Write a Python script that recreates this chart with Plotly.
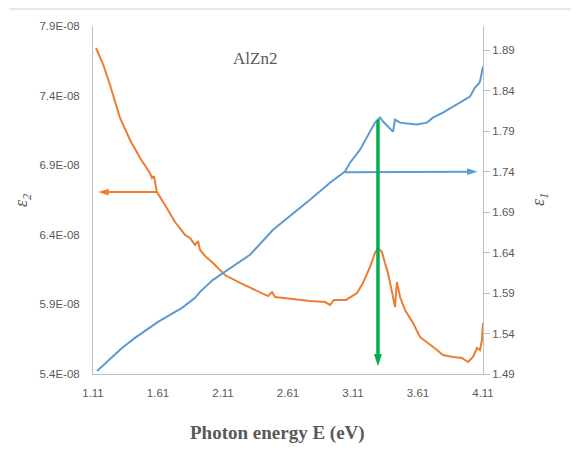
import plotly.graph_objects as go

# ---- data ----
e1_energy = [1.141, 1.202, 1.279, 1.333, 1.433, 1.548, 1.610, 1.702, 1.795, 1.895, 1.933,
             2.033, 2.125, 2.318, 2.495, 2.610, 2.779, 2.933, 3.048, 3.087, 3.164, 3.241,
             3.279, 3.302, 3.318, 3.341, 3.379, 3.418, 3.433, 3.472, 3.525, 3.602, 3.679,
             3.725, 3.802, 3.879, 3.956, 4.010, 4.048, 4.072, 4.087, 4.110]
e1_values = [1.4937, 1.5024, 1.5135, 1.5222, 1.5346, 1.5482, 1.5544, 1.5630, 1.5717, 1.5841, 1.5915,
             1.6063, 1.6162, 1.6373, 1.6682, 1.6831, 1.7053, 1.7264, 1.7400, 1.7511, 1.7672, 1.7895,
             1.8006, 1.8043, 1.8068, 1.8019, 1.7957, 1.7895, 1.8043, 1.8006, 1.7994, 1.7982, 1.8006,
             1.8068, 1.8130, 1.8204, 1.8279, 1.8328, 1.8440, 1.8477, 1.8514, 1.8700]

e2_energy = [1.133, 1.156, 1.187, 1.241, 1.318, 1.395, 1.472, 1.548, 1.564, 1.579, 1.602,
             1.664, 1.741, 1.818, 1.856, 1.895, 1.918, 1.933, 1.972, 2.033, 2.125, 2.241,
             2.356, 2.456, 2.487, 2.510, 2.648, 2.779, 2.895, 2.933, 2.964, 3.056, 3.141,
             3.187, 3.241, 3.279, 3.302, 3.333, 3.356, 3.379, 3.418, 3.433, 3.448, 3.472,
             3.510, 3.572, 3.625, 3.687, 3.756, 3.802, 3.879, 3.948, 3.995, 4.033, 4.064,
             4.087, 4.102, 4.110]
e2_values = [7.742, 7.692, 7.627, 7.476, 7.239, 7.081, 6.952, 6.844, 6.808, 6.822, 6.707,
             6.614, 6.492, 6.399, 6.377, 6.327, 6.355, 6.291, 6.248, 6.197, 6.111, 6.054,
             6.003, 5.960, 5.989, 5.953, 5.939, 5.924, 5.917, 5.896, 5.932, 5.932, 5.982,
             6.054, 6.169, 6.269, 6.305, 6.276, 6.197, 6.126, 5.953, 5.881, 6.061, 5.953,
             5.860, 5.766, 5.666, 5.623, 5.572, 5.536, 5.522, 5.515, 5.486, 5.522, 5.587,
             5.572, 5.644, 5.766]
e2_values = [v * 1e-8 for v in e2_values]

x_ticks = [1.11, 1.61, 2.11, 2.61, 3.11, 3.61, 4.11]
x_tick_labels = ["1.11", "1.61", "2.11", "2.61", "3.11", "3.61", "4.11"]
y1_ticks = [5.4e-8, 5.9e-8, 6.4e-8, 6.9e-8, 7.4e-8, 7.9e-8]
y1_tick_labels = ["5.4E-08", "5.9E-08", "6.4E-08", "6.9E-08", "7.4E-08", "7.9E-08"]
y2_ticks = [1.49, 1.54, 1.59, 1.64, 1.69, 1.74, 1.79, 1.84, 1.89]
y2_tick_labels = ["1.49", "1.54", "1.59", "1.64", "1.69", "1.74", "1.79", "1.84", "1.89"]

# arrows (start / end points in data units)
e2_arrow_x = [1.602, 1.150]
e2_arrow_y = [6.707e-8, 6.707e-8]
e1_arrow_x = [3.048, 4.068]
e1_arrow_y = [1.7392, 1.7400]
peak_arrow_x = [3.302, 3.302]
peak_arrow_y = [1.8043, 1.4995]

ORANGE = "#ED7D31"
BLUE = "#5B9BD5"
GREEN = "#00B050"
GRAY = "#595959"
AXIS = "#BFBFBF"

fig = go.Figure()
fig.add_trace(go.Scatter(x=e2_energy, y=e2_values, mode="lines",
                         line=dict(color=ORANGE, width=2), yaxis="y", showlegend=False))
fig.add_trace(go.Scatter(x=e1_energy, y=e1_values, mode="lines",
                         line=dict(color=BLUE, width=2), yaxis="y2", showlegend=False))


def arrow(xs, ys, color, width, head, axis):
    fig.add_trace(go.Scatter(
        x=xs, y=ys, mode="lines+markers", yaxis=axis, showlegend=False, hoverinfo="skip",
        line=dict(color=color, width=width),
        marker=dict(symbol=["circle", "arrow"], size=[0, head], color=color,
                    opacity=[0, 1], angleref="previous", line=dict(width=0))))


arrow(e2_arrow_x, e2_arrow_y, ORANGE, 2, 11, "y")
arrow(e1_arrow_x, e1_arrow_y, BLUE, 2, 11, "y2")
arrow(peak_arrow_x, peak_arrow_y, GREEN, 3.5, 13, "y2")

tickfont = dict(family="Liberation Sans", size=11.5, color=GRAY)

# note: the page body adds an 8px offset, compensated in the margins
fig.update_layout(
    width=579, height=464,
    margin=dict(l=85, r=104, t=18, b=98),
    paper_bgcolor="white", plot_bgcolor="white",
    xaxis=dict(range=[1.11, 4.11], tickvals=x_ticks, ticktext=x_tick_labels,
               showgrid=False, zeroline=False, showline=True, linecolor=AXIS, linewidth=1,
               ticks="outside", ticklen=8, tickcolor="rgba(0,0,0,0)", tickfont=tickfont),
    yaxis=dict(range=[5.4e-8, 7.9e-8], tickvals=y1_ticks, ticktext=y1_tick_labels,
               showgrid=False, zeroline=False, showline=True, linecolor=AXIS, linewidth=1,
               ticks="outside", ticklen=10, tickcolor="rgba(0,0,0,0)", tickfont=tickfont),
    yaxis2=dict(range=[1.49, 1.92], tickvals=y2_ticks, ticktext=y2_tick_labels,
                overlaying="y", side="right",
                showgrid=False, zeroline=False, showline=True, linecolor=AXIS, linewidth=1,
                ticks="outside", ticklen=6, tickcolor=AXIS, tickfont=tickfont),
)

# texts (paper coords: plot area spans x 93..483, y 26..374 in the window)
def px(x):
    return (x - 93) / 390


def py(y):
    return (374 - y) / 348


fig.add_annotation(x=px(255), y=py(58), xref="paper", yref="paper", text="AlZn2",
                   xanchor="center", yanchor="middle", showarrow=False,
                   font=dict(family="Liberation Serif", size=17, color=GRAY))
fig.add_annotation(x=px(277), y=py(433), xref="paper", yref="paper",
                   text="<b>Photon energy E (eV)</b>", xanchor="center", yanchor="middle",
                   showarrow=False, font=dict(family="Liberation Serif", size=19, color=GRAY))
fig.add_annotation(x=px(22), y=py(200), xref="paper", yref="paper", text="<i>ε<sub>2</sub></i>",
                   textangle=-90, xanchor="center", yanchor="middle", showarrow=False,
                   font=dict(family="Liberation Serif", size=18, color=GRAY))
fig.add_annotation(x=px(539), y=py(200), xref="paper", yref="paper", text="<i>ε<sub>1</sub></i>",
                   textangle=-90, xanchor="center", yanchor="middle", showarrow=False,
                   font=dict(family="Liberation Serif", size=18, color=GRAY))

# outer frame (top and right edges visible in reference)
fig.add_shape(type="line", xref="paper", yref="paper",
              x0=px(9), x1=px(575), y0=py(9), y1=py(9),
              line=dict(color="#D0D0D0", width=1))
fig.add_shape(type="line", xref="paper", yref="paper",
              x0=px(575), x1=px(575), y0=py(9), y1=py(470),
              line=dict(color="#D0D0D0", width=1))

fig.write_html("out.html")
